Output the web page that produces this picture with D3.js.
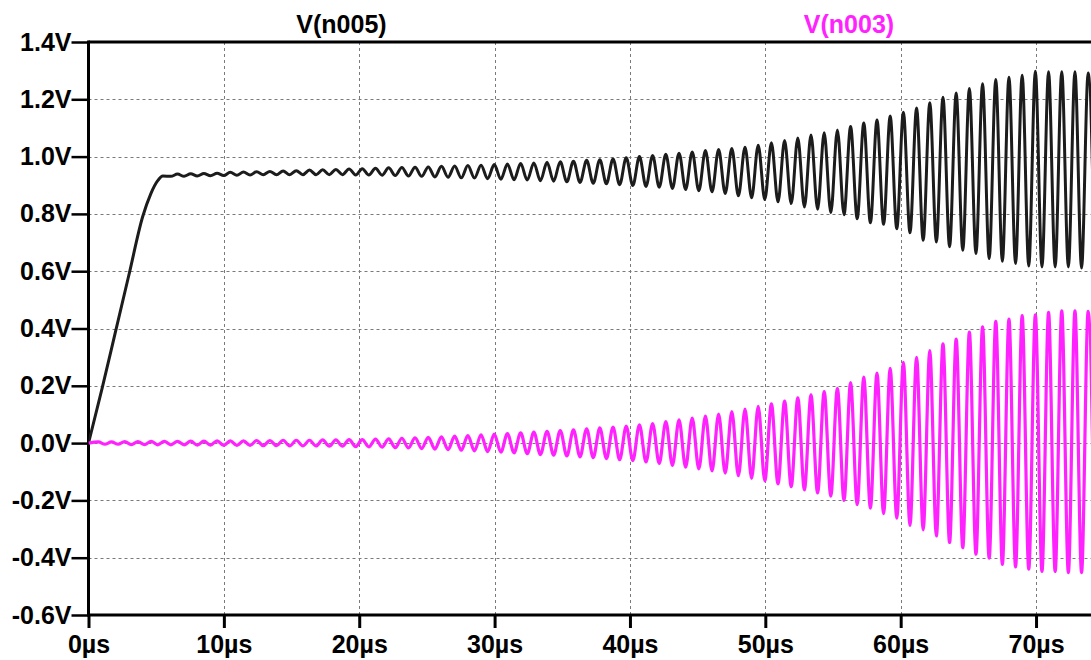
<!DOCTYPE html>
<html>
<head>
<meta charset="utf-8">
<script src="https://cdn.jsdelivr.net/npm/d3@7"></script>
<style>
  html, body { margin: 0; padding: 0; background: #fff; }
  svg { display: block; }
  text { font-family: "Liberation Sans", Arial, sans-serif; font-weight: bold; }
</style>
</head>
<body>
<svg id="chart" width="1091" height="660"></svg>
<script>
// ---------------- data ----------------
const traceNames = ["V(n005)", "V(n003)"];
const yTicks = [-0.6, -0.4, -0.2, 0.0, 0.2, 0.4, 0.6, 0.8, 1.0, 1.2, 1.4];
const yTickLabels = ["-0.6V", "-0.4V", "-0.2V", "0.0V", "0.2V", "0.4V", "0.6V", "0.8V", "1.0V", "1.2V", "1.4V"];
const xTicks = [0, 10, 20, 30, 40, 50, 60, 70];
const xTickLabels = ["0µs", "10µs", "20µs", "30µs", "40µs", "50µs", "60µs", "70µs"];

// oscillation timing (µs): peak of cycle n at cycleT0 + n*cyclePeriod, trough half a period later
const cycleT0 = 0.725;
const cyclePeriod = 0.975;

// V(n005): start-up ramp (time µs, volts)
const blackRampT = [0, 1, 2, 3, 4, 4.6, 5.1, 5.5];
const blackRampV = [0, 0.19, 0.39, 0.59, 0.79, 0.87, 0.915, 0.932];
// V(n005): peak values for cycles 6..75, trough values for cycles 5..75
const blackFirstPeakCycle = 6;
const blackPeaks = [
  0.939, 0.940, 0.941, 0.942, 0.945, 0.946, 0.947, 0.948, 0.950, 0.951,
  0.953, 0.954, 0.955, 0.957, 0.958, 0.959, 0.961, 0.962, 0.963, 0.964,
  0.966, 0.967, 0.969, 0.970, 0.972, 0.974, 0.976, 0.978, 0.980, 0.982,
  0.984, 0.987, 0.989, 0.992, 0.996, 1.000, 1.004, 1.008, 1.012, 1.016,
  1.021, 1.025, 1.028, 1.033, 1.040, 1.048, 1.056, 1.065, 1.075, 1.083,
  1.093, 1.105, 1.117, 1.128, 1.142, 1.155, 1.170, 1.188, 1.207, 1.222,
  1.238, 1.254, 1.269, 1.277, 1.284, 1.298, 1.296, 1.296, 1.296, 1.292
];
const blackFirstTroughCycle = 5;
const blackTroughs = [
  0.931, 0.931, 0.932, 0.933, 0.934, 0.935, 0.936, 0.937, 0.937, 0.937,
  0.937, 0.937, 0.937, 0.937, 0.936, 0.936, 0.935, 0.934, 0.932, 0.931,
  0.929, 0.928, 0.926, 0.925, 0.923, 0.921, 0.919, 0.918, 0.916, 0.914,
  0.912, 0.910, 0.907, 0.905, 0.902, 0.899, 0.896, 0.893, 0.889, 0.885,
  0.881, 0.877, 0.871, 0.863, 0.856, 0.850, 0.842, 0.836, 0.824, 0.816,
  0.804, 0.797, 0.783, 0.769, 0.764, 0.748, 0.734, 0.708, 0.702, 0.685,
  0.673, 0.662, 0.644, 0.635, 0.627, 0.618, 0.615, 0.615, 0.615, 0.611,
  0.612
];

// V(n003): starts at 0 V, peaks / troughs for cycles 0..75
const magentaStartV = 0;
const magentaPeaks = [
  0.004, 0.004, 0.005, 0.005, 0.006, 0.006, 0.006, 0.007, 0.007, 0.008,
  0.008, 0.008, 0.009, 0.009, 0.010, 0.010, 0.010, 0.011, 0.011, 0.012,
  0.012, 0.014, 0.015, 0.017, 0.018, 0.020, 0.022, 0.024, 0.026, 0.029,
  0.031, 0.033, 0.036, 0.038, 0.041, 0.044, 0.046, 0.050, 0.053, 0.056,
  0.059, 0.064, 0.068, 0.075, 0.081, 0.087, 0.094, 0.101, 0.110, 0.119,
  0.128, 0.137, 0.147, 0.158, 0.168, 0.180, 0.191, 0.211, 0.230, 0.244,
  0.261, 0.282, 0.299, 0.323, 0.346, 0.363, 0.387, 0.406, 0.425, 0.433,
  0.445, 0.448, 0.456, 0.462, 0.462, 0.460
];
const magentaTroughs = [
  -0.004, -0.004, -0.005, -0.005, -0.006, -0.006, -0.006, -0.007, -0.007, -0.008,
  -0.008, -0.008, -0.009, -0.009, -0.010, -0.010, -0.010, -0.011, -0.011, -0.012,
  -0.013, -0.014, -0.016, -0.017, -0.019, -0.021, -0.023, -0.025, -0.027, -0.030,
  -0.032, -0.034, -0.037, -0.040, -0.042, -0.045, -0.048, -0.051, -0.054, -0.058,
  -0.061, -0.066, -0.071, -0.078, -0.084, -0.090, -0.097, -0.105, -0.114, -0.123,
  -0.132, -0.142, -0.152, -0.163, -0.174, -0.185, -0.200, -0.215, -0.227, -0.246,
  -0.262, -0.287, -0.303, -0.324, -0.347, -0.365, -0.388, -0.402, -0.423, -0.432,
  -0.440, -0.448, -0.448, -0.452, -0.452, -0.450
];

// ---------------- build point lists ----------------
function oscPoints(peaks, firstPeak, troughs, firstTrough) {
  const pts = [];
  peaks.forEach((v, i) => pts.push({ t: cycleT0 + (firstPeak + i) * cyclePeriod, v }));
  troughs.forEach((v, i) => pts.push({ t: cycleT0 + (firstTrough + i) * cyclePeriod + cyclePeriod / 2, v }));
  return pts.sort((a, b) => a.t - b.t);
}
const blackSeries = blackRampT.map((t, i) => ({ t, v: blackRampV[i] }))
  .concat(oscPoints(blackPeaks, blackFirstPeakCycle, blackTroughs, blackFirstTroughCycle));
const magentaSeries = [{ t: 0, v: magentaStartV }]
  .concat(oscPoints(magentaPeaks, 0, magentaTroughs, 0));

// ---------------- drawing ----------------
const mLeft = 88.5, mTop = 42, mBottom = 615, mRight = 1091;
const fontPx = 25;
const svg = d3.select("#chart");

const x = d3.scaleLinear().domain([0, 74.06]).range([mLeft, mRight]);
const y = d3.scaleLinear().domain([-0.6, 1.4]).range([mBottom, mTop]);

svg.append("defs").append("clipPath").attr("id", "plotclip")
  .append("rect").attr("x", mLeft).attr("y", mTop).attr("width", mRight - mLeft).attr("height", mBottom - mTop);

// grid
const grid = svg.append("g").attr("stroke", "#7a7a7a").attr("stroke-width", 1).attr("stroke-dasharray", "3,3");
grid.selectAll("line.v").data(xTicks.filter(d => d > 0)).enter().append("line")
  .attr("x1", d => Math.round(x(d)) + 0.5).attr("x2", d => Math.round(x(d)) + 0.5)
  .attr("y1", mTop).attr("y2", mBottom);
grid.selectAll("line.h").data(yTicks.filter(d => d > -0.6 && d < 1.4)).enter().append("line")
  .attr("y1", d => Math.round(y(d)) + 0.5).attr("y2", d => Math.round(y(d)) + 0.5)
  .attr("x1", mLeft).attr("x2", mRight);

// axes with d3
const yAxis = d3.axisLeft(y).tickValues(yTicks).tickFormat((d, i) => yTickLabels[i]).tickSize(17).tickPadding(0);
const yg = svg.append("g").attr("transform", `translate(${mLeft},0)`).call(yAxis);
yg.select(".domain").remove();
yg.selectAll(".tick line").attr("stroke", "#000").attr("stroke-width", 2.5);
yg.selectAll(".tick text").attr("fill", "#000").attr("font-size", fontPx).attr("font-family", null);

const xAxis = d3.axisBottom(x).tickValues(xTicks).tickFormat((d, i) => xTickLabels[i]).tickSize(13).tickPadding(7);
const xg = svg.append("g").attr("transform", `translate(0,${mBottom})`).call(xAxis);
xg.select(".domain").remove();
xg.selectAll(".tick line").attr("stroke", "#000").attr("stroke-width", 3);
xg.selectAll(".tick text").attr("fill", "#000").attr("font-size", fontPx).attr("font-family", null);

// frame
const frame = svg.append("g").attr("stroke", "#000").attr("stroke-width", 3).attr("fill", "none");
frame.append("line").attr("x1", mLeft).attr("x2", mRight).attr("y1", mTop).attr("y2", mTop);
frame.append("line").attr("x1", mLeft).attr("x2", mRight).attr("y1", mBottom).attr("y2", mBottom);
frame.append("line").attr("x1", mLeft).attr("x2", mLeft).attr("y1", mTop - 1.5).attr("y2", mBottom + 1.5);

// traces
const line = d3.line().x(d => x(d.t)).y(d => y(d.v)).curve(d3.curveMonotoneX);
const traces = svg.append("g").attr("clip-path", "url(#plotclip)");
traces.append("path").datum(blackSeries).attr("d", line)
  .attr("fill", "none").attr("stroke", "#1c1c1c").attr("stroke-width", 3).attr("stroke-linejoin", "round");
traces.append("path").datum(magentaSeries).attr("d", line)
  .attr("fill", "none").attr("stroke", "#ff22ff").attr("stroke-width", 3.2).attr("stroke-linejoin", "round");

// trace titles
svg.append("text").attr("x", 341.5).attr("y", 33).attr("text-anchor", "middle")
  .attr("font-size", fontPx).attr("fill", "#000").text(traceNames[0]);
svg.append("text").attr("x", 849).attr("y", 33).attr("text-anchor", "middle")
  .attr("font-size", fontPx).attr("fill", "#ff22ff").text(traceNames[1]);
</script>
</body>
</html>
